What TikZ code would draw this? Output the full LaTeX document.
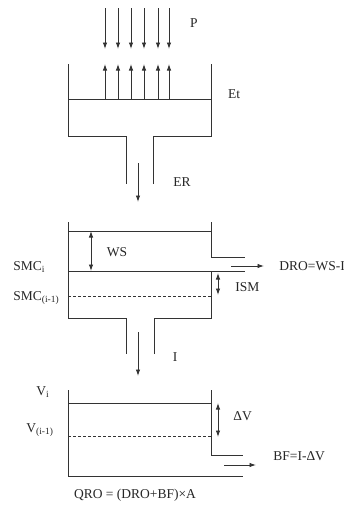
\documentclass[tikz,border=0pt]{standalone}
\usepackage{fontspec}
\setmainfont{Liberation Serif}
\usetikzlibrary{arrows.meta}
\begin{document}
\begin{tikzpicture}[x=1pt,y=-1pt,line width=0.9pt,draw=black!80,
  arr/.style={-{Latex[length=6.5pt,width=4.5pt]}},
  darr/.style={{Latex[length=6.5pt,width=4.5pt]}-{Latex[length=6.5pt,width=4.5pt]}},
  lbl/.style={font=\fontsize{13.5}{15}\selectfont,inner sep=0pt,text=black!85},
  lvl/.style={dash pattern=on 3pt off 2pt}]
\useasboundingbox (0,0) rectangle (344,506);
% precipitation and evaporation
\foreach \x in {105,118,131,144,158,169}{
  \draw[arr] (\x,8) -- (\x,49);
  \draw[arr] (\x,99) -- (\x,64);
}
\node[lbl] (P) at (194,23) {P};
% box 1
\draw (68,64) -- (68,136) -- (126,136) -- (126,184);
\draw (153,184) -- (153,136) -- (211,136) -- (211,64);
\draw (68,99) -- (211,99);
\node[lbl] (Et) at (234,94) {Et};
\draw[arr] (138,163) -- (138,202);
\node[lbl] (ER) at (182,182) {ER};
% box 2
\draw (68,222) -- (68,318) -- (126,318) -- (126,354);
\draw (154,354) -- (154,318) -- (211,318) -- (211,271);
\draw (211,222) -- (211,257) -- (245,257);
\draw (68,231) -- (211,231);
\draw (68,271) -- (245,271);
\draw[lvl] (68,296) -- (211,296);
\draw[darr] (91,231) -- (91,271);
\node[lbl] (WS) at (117,252) {WS};
\draw[arr] (231,266) -- (264,266);
\node[lbl,anchor=west] (DRO) at (279,266) {DRO=WS-I};
\draw[darr] (218,273) -- (218,295);
\node[lbl,anchor=west] (ISM) at (235,287) {ISM};
\node[lbl,anchor=west] (SMCi) at (13,267) {SMC\textsubscript{i}};
\node[lbl,anchor=west] (SMCi1) at (13,298) {SMC\textsubscript{(i-1)}};
\draw[arr] (138,332) -- (138,376);
\node[lbl] (I) at (175,357) {I};
% box 3
\draw (68,390) -- (68,476) -- (243,476);
\draw (211,390) -- (211,455) -- (243,455);
\draw (68,403) -- (211,403);
\draw[lvl] (68,436) -- (211,436);
\draw[darr] (218,403) -- (218,437);
\node[lbl,anchor=west] (DV) at (233,416) {ΔV};
\draw[arr] (224,465) -- (256,465);
\node[lbl,anchor=west] (BF) at (273,456) {BF=I-ΔV};
\node[lbl,anchor=west] (Vi) at (36,392) {V\textsubscript{i}};
\node[lbl,anchor=west] (Vi1) at (26,430) {V\textsubscript{(i-1)}};
\node[lbl] (QRO) at (135,495) {QRO = (DRO+BF)×A};
\end{tikzpicture}
\end{document}
